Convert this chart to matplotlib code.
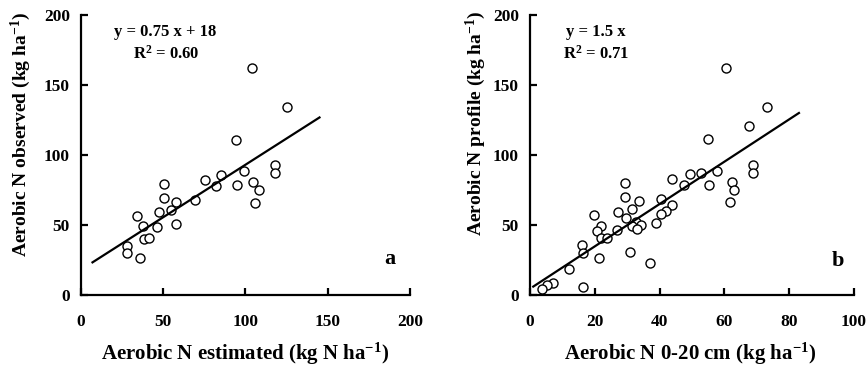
import matplotlib.pyplot as plt

# panel a: estimated vs observed
est_a = [104, 125, 94, 118, 118, 99, 85, 75.5, 82, 95, 104.5, 108, 105.7, 69.5,
         50.6, 50.6, 58, 54.7, 47.4, 58, 46.2, 34.3, 37.4, 38.4, 41.3, 27.8, 28.2, 36]
obs_a = [162, 134.5, 111, 93, 87, 88.6, 86, 82, 78, 78.6, 80.5, 75, 66, 68,
         79, 69.5, 66.4, 60.7, 59, 50.7, 48.8, 56.6, 49.3, 40, 40.7, 35, 29.8, 26.2]
line_a_x = [7, 145]
line_a_y = [23.3, 126.8]

# panel b: 0-20 cm vs profile
top_b = [60.5, 73, 67.5, 55, 68.9, 68.9, 57.6, 52.9, 49.4, 43.9, 62.2, 47.4, 55.3, 63,
         61.7, 29.3, 29.3, 33.6, 40.4, 43.9, 42, 40.4, 31.6, 27.3, 29.5, 32.6, 19.8,
         38.8, 34.2, 31.6, 33, 26.9, 22, 20.6, 22, 23.9, 16.1, 16.5, 30.9, 21.3, 37,
         12, 7, 5.1, 3.8, 16.3]
prof_b = [162, 134.5, 120.5, 111.7, 93, 87, 88.8, 87.4, 86.4, 82.9, 81, 78.6, 78.6, 75,
          66.2, 79.8, 69.8, 67.1, 68.3, 64.3, 60.2, 57.6, 61.2, 59.5, 54.8, 52.4, 57.1,
          51.2, 50, 49.3, 47.1, 46.4, 49.3, 45.9, 40.5, 40.5, 35.7, 30.2, 30.5, 26.6, 22.6,
          18.6, 8.4, 7.1, 4.3, 5.5]
line_b_x = [1, 83]
line_b_y = [6, 130]

plt.rcParams['font.family'] = ['Liberation Serif', 'DejaVu Serif']
plt.rcParams['font.weight'] = 'bold'
plt.rcParams['mathtext.fontset'] = 'custom'
plt.rcParams['mathtext.rm'] = 'Liberation Serif:bold'
plt.rcParams['mathtext.bf'] = 'Liberation Serif:bold'
plt.rcParams['mathtext.default'] = 'bf'

fig = plt.figure(figsize=(8.68, 3.71), dpi=100)
ax1 = fig.add_axes([0.0933, 0.2049, 0.379, 0.7547])
ax2 = fig.add_axes([0.6106, 0.2049, 0.3733, 0.7547])


def style(ax, xmax, xstep):
    for s in ['top', 'right']:
        ax.spines[s].set_visible(False)
    for s in ['left', 'bottom']:
        ax.spines[s].set_linewidth(1.6)
    ax.set_xlim(0, xmax)
    ax.set_ylim(0, 200)
    ax.set_xticks(range(0, xmax + 1, xstep))
    ax.set_yticks(range(0, 201, 50))
    ax.tick_params(direction='in', length=5, width=1.6, labelsize=12.5)
    ax.tick_params(axis='x', pad=14)
    ax.tick_params(axis='y', pad=8)
    for lab in ax.get_xticklabels() + ax.get_yticklabels():
        lab.set_fontweight('bold')


ax1.plot(est_a, obs_a, 'o', mfc='white', mec='black', ms=6.5, mew=1.0, clip_on=False)
ax1.plot(line_a_x, line_a_y, color='black', lw=1.6)
style(ax1, 200, 50)
ax1.set_xlabel('Aerobic N estimated (kg N ha$^{-1}$)', fontsize=15, fontweight='bold')
ax1.set_ylabel('Aerobic N observed (kg ha$^{-1}$)', fontsize=14, fontweight='bold')
ax1.xaxis.set_label_coords(0.5, -0.165)
ax1.yaxis.set_label_coords(-0.146, 0.575)
ax1.text(0.099, 0.94, 'y = 0.75 x + 18', transform=ax1.transAxes, fontsize=12, fontweight='bold', va='center')
ax1.text(0.158, 0.86, 'R$^{2}$ = 0.60', transform=ax1.transAxes, fontsize=12, fontweight='bold', va='center')
ax1.text(0.94, 0.13, 'a', transform=ax1.transAxes, fontsize=16, fontweight='bold', ha='center', va='center')

ax2.plot(top_b, prof_b, 'o', mfc='white', mec='black', ms=6.5, mew=1.0, clip_on=False)
ax2.plot(line_b_x, line_b_y, color='black', lw=1.6)
style(ax2, 100, 20)
ax2.set_xlabel('Aerobic N 0-20 cm (kg ha$^{-1}$)', fontsize=15, fontweight='bold')
ax2.set_ylabel('Aerobic N profile (kg ha$^{-1}$)', fontsize=14, fontweight='bold')
ax2.xaxis.set_label_coords(0.494, -0.165)
ax2.yaxis.set_label_coords(-0.13, 0.615)
ax2.text(0.111, 0.94, 'y = 1.5 x', transform=ax2.transAxes, fontsize=12, fontweight='bold', va='center')
ax2.text(0.102, 0.86, 'R$^{2}$ = 0.71', transform=ax2.transAxes, fontsize=12, fontweight='bold', va='center')
ax2.text(0.95, 0.12, 'b', transform=ax2.transAxes, fontsize=16, fontweight='bold', ha='center', va='center')

fig.savefig('out.png', dpi=100)
